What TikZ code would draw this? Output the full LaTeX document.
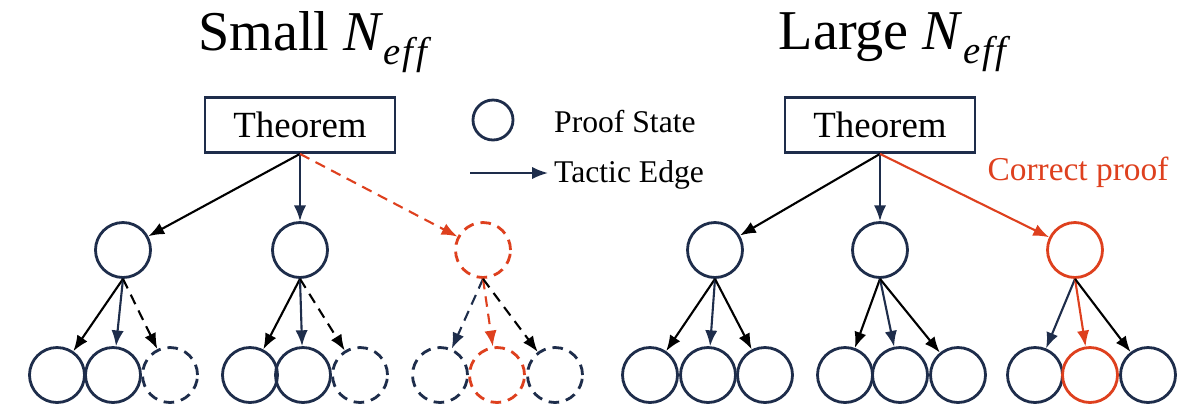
\documentclass[tikz,border=0pt]{standalone}
\usepackage{fontspec}
\setmainfont{Liberation Serif}
\usetikzlibrary{arrows.meta}
\definecolor{navy}{RGB}{30,45,75}
\definecolor{proofred}{RGB}{222,64,30}
\newcommand{\neff}{\textit{N}\raisebox{-0.25em}{\fontsize{22}{24}\selectfont\textit{e\kern0.05em f\kern0.08em f}}}
\begin{document}
\begin{tikzpicture}[x=0.02cm,y=-0.02cm,
  state/.style={circle,draw=navy,line width=1.6pt,minimum size=1.1cm,inner sep=0pt},
  thm/.style={draw=navy,line width=1.6pt,minimum width=3.8cm,minimum height=1.1cm,font=\fontsize{21}{24}\selectfont},
  edge/.style={line width=1.2pt,-{Latex[length=9pt,width=7pt]}},
  maybe/.style={dashed,dash pattern=on 6pt off 4pt}]
\useasboundingbox (0,0) rectangle (1200,407);
% titles
\node (tl) at (315,42) {\fontsize{32}{36}\selectfont Small \neff};
\node (tr) at (895,42) {\fontsize{32}{36}\selectfont Large \neff};
% legend
\node[state,minimum size=0.8cm] (lc) at (493,120) {};
\node[anchor=west,font=\fontsize{18}{20}\selectfont] (ls) at (548,122) {Proof State};
\node[anchor=west,font=\fontsize{18}{20}\selectfont] (le) at (548,175) {Tactic Edge};
\coordinate (la) at (470,173);
\draw[edge,navy] (la) -- (la -| le.west);
% left tree
\node[thm] (t1) at (300,125) {Theorem};
\node[state] (a) at (123,250) {};
\node[state] (b) at (300,250) {};
\node[state,draw=proofred,maybe] (c) at (483,250) {};
\draw[edge] (t1.south) -- (a);
\draw[edge,navy] (t1.south) -- (b);
\draw[edge,proofred,maybe] (t1.south) -- (c);
\node[state] (a1) at (57,375) {};
\node[state] (a2) at (113,375) {};
\node[state,maybe] (a3) at (170,375) {};
\node[state] (b1) at (250,375) {};
\node[state] (b2) at (303,375) {};
\node[state,maybe] (b3) at (360,375) {};
\node[state,maybe] (c1) at (440,375) {};
\node[state,draw=proofred,maybe] (c2) at (497,375) {};
\node[state,maybe] (c3) at (555,375) {};
\foreach \p in {a,b}{
  \draw[edge] (\p.south) -- (\p1);
  \draw[edge,navy] (\p.south) -- (\p2);
  \draw[edge,maybe] (\p.south) -- (\p3);
}
\draw[edge,navy,maybe] (c.south) -- (c1);
\draw[edge,proofred,maybe] (c.south) -- (c2);
\draw[edge,maybe] (c.south) -- (c3);
% right tree
\node[thm] (t2) at (880,125) {Theorem};
\node[state] (d) at (715,250) {};
\node[state] (e) at (880,250) {};
\node[state,draw=proofred] (f) at (1075,250) {};
\draw[edge] (t2.south) -- (d);
\draw[edge,navy] (t2.south) -- (e);
\draw[edge,proofred] (t2.south) -- (f);
\node[text=proofred,font=\fontsize{19}{22}\selectfont] (cp) at (1078,172) {Correct proof};
\node[state] (d1) at (650,375) {};
\node[state] (d2) at (708,375) {};
\node[state] (d3) at (765,375) {};
\node[state] (e1) at (845,375) {};
\node[state] (e2) at (900,375) {};
\node[state] (e3) at (958,375) {};
\node[state] (f1) at (1035,375) {};
\node[state,draw=proofred] (f2) at (1090,375) {};
\node[state] (f3) at (1148,375) {};
\foreach \p in {d,e}{
  \draw[edge] (\p.south) -- (\p1);
  \draw[edge,navy] (\p.south) -- (\p2);
  \draw[edge] (\p.south) -- (\p3);
}
\draw[edge,navy] (f.south) -- (f1);
\draw[edge,proofred] (f.south) -- (f2);
\draw[edge] (f.south) -- (f3);
\end{tikzpicture}
\end{document}
